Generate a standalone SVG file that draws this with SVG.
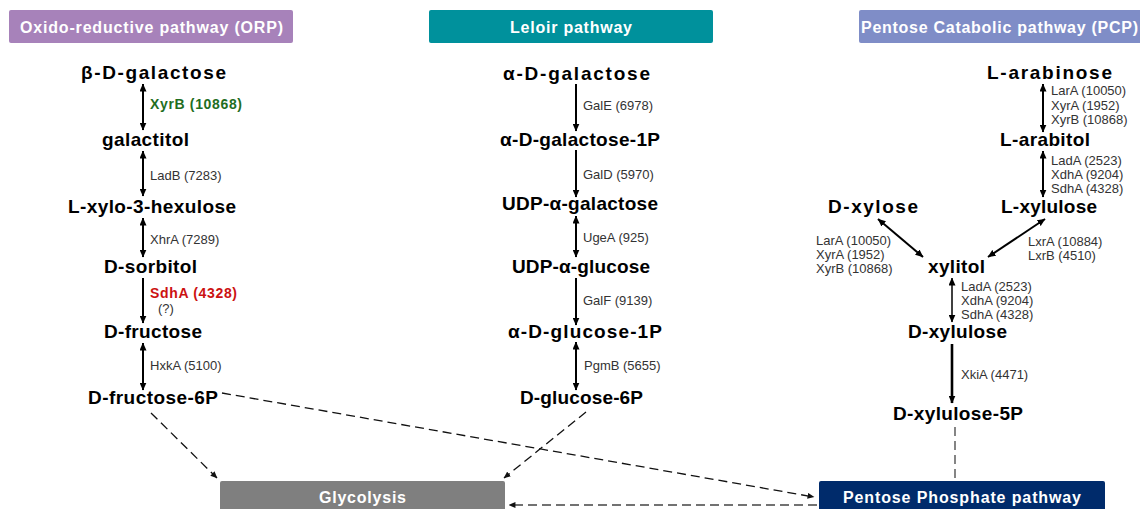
<svg xmlns="http://www.w3.org/2000/svg" width="1140" height="509" viewBox="0 0 1140 509">
<defs>
<style>
.hdr{fill:#fff;font-family:"Liberation Sans",Arial,sans-serif;font-weight:bold;font-size:16px;}
.node{fill:#000;font-family:"Liberation Sans",Arial,sans-serif;font-weight:bold;font-size:19px;text-anchor:middle;}
.lbl{fill:#333;font-family:"Liberation Sans",Arial,sans-serif;font-size:13px;}
.grn{fill:#1f6e1f;font-weight:bold;font-size:14px;}
.red{fill:#cc1111;font-weight:bold;font-size:14px;}
.ar{stroke:#000;stroke-width:2;fill:none;}
.dash{stroke:#111;stroke-width:1.3;stroke-dasharray:9 5;fill:none;}
</style>
<marker id="ah" viewBox="0 0 8 7" refX="7.5" refY="3.5" markerWidth="8" markerHeight="7" markerUnits="userSpaceOnUse" orient="auto-start-reverse">
<path d="M0,0 L8,3.5 L0,7 z" fill="#000"/>
</marker>
<marker id="dh" viewBox="0 0 8 7" refX="7.5" refY="3.5" markerWidth="7" markerHeight="6" markerUnits="userSpaceOnUse" orient="auto">
<path d="M0,0 L8,3.5 L0,7 z" fill="#111"/>
</marker>
</defs>
<rect width="1140" height="509" fill="#fff"/>

<g id="hdr-orp">
<rect x="9" y="10" width="284" height="33" rx="2" fill="#a782ba"/>
<text class="hdr" x="151.5" y="32.5" text-anchor="middle" textLength="263" lengthAdjust="spacing">Oxido-reductive pathway (ORP)</text>
</g>
<g id="hdr-leloir">
<rect x="429" y="10" width="284" height="33" rx="2" fill="#00919c"/>
<text class="hdr" x="571" y="32.5" text-anchor="middle" textLength="122" lengthAdjust="spacing">Leloir pathway</text>
</g>
<g id="hdr-pcp">
<rect x="859" y="10" width="290" height="33" rx="2" fill="#7f8dc7"/>
<text class="hdr" x="861" y="32.5" textLength="277" lengthAdjust="spacing">Pentose Catabolic pathway (PCP)</text>
</g>

<g id="connectors">
<!-- ORP -->
<line class="ar" x1="143" y1="84" x2="143" y2="130" marker-start="url(#ah)" marker-end="url(#ah)"/>
<line class="ar" x1="143" y1="151" x2="143" y2="196" marker-start="url(#ah)" marker-end="url(#ah)"/>
<line class="ar" x1="143" y1="218" x2="143" y2="257" marker-start="url(#ah)" marker-end="url(#ah)"/>
<line class="ar" x1="143" y1="278" x2="143" y2="323" marker-end="url(#ah)"/>
<line class="ar" x1="143" y1="343" x2="143" y2="390" marker-start="url(#ah)" marker-end="url(#ah)"/>
<!-- Leloir -->
<line class="ar" x1="576" y1="84" x2="576" y2="131" marker-end="url(#ah)"/>
<line class="ar" x1="576" y1="150" x2="576" y2="197" marker-end="url(#ah)"/>
<line class="ar" x1="576" y1="216" x2="576" y2="257" marker-start="url(#ah)" marker-end="url(#ah)"/>
<line class="ar" x1="576" y1="278" x2="576" y2="325" marker-end="url(#ah)"/>
<line class="ar" x1="576" y1="342" x2="576" y2="390" marker-start="url(#ah)" marker-end="url(#ah)"/>
<!-- PCP -->
<line class="ar" x1="1043" y1="84" x2="1043" y2="132" marker-start="url(#ah)" marker-end="url(#ah)"/>
<line class="ar" x1="1043" y1="151" x2="1043" y2="197" marker-start="url(#ah)" marker-end="url(#ah)"/>
<line class="ar" x1="878" y1="219" x2="923" y2="257" marker-start="url(#ah)" marker-end="url(#ah)"/>
<line class="ar" x1="1045" y1="219" x2="988" y2="257" marker-start="url(#ah)" marker-end="url(#ah)"/>
<line class="ar" style="stroke-width:1.5" x1="952" y1="278" x2="952" y2="322" marker-start="url(#ah)" marker-end="url(#ah)"/>
<line class="ar" style="stroke-width:2.6" x1="952" y1="344" x2="952" y2="403" marker-end="url(#ah)"/>
<!-- dashed -->
<line class="dash" x1="151" y1="413" x2="217" y2="478" marker-end="url(#dh)"/>
<line class="dash" x1="586" y1="412" x2="504" y2="478" marker-end="url(#dh)"/>
<line class="dash" x1="222" y1="393" x2="814" y2="497" marker-end="url(#dh)"/>
<line class="dash" style="stroke:#444" x1="817" y1="505" x2="509" y2="505" marker-end="url(#dh)"/>
<line class="dash" style="stroke:#444" x1="955" y1="427" x2="955" y2="480"/>
</g>

<g id="orp-nodes">
<text class="node" x="153.5" y="79" textLength="145" lengthAdjust="spacing">β-D-galactose</text>
<text class="node" x="145.5" y="146" textLength="87" lengthAdjust="spacing">galactitol</text>
<text class="node" x="152" y="213" textLength="168" lengthAdjust="spacing">L-xylo-3-hexulose</text>
<text class="node" x="150.5" y="273" textLength="93" lengthAdjust="spacing">D-sorbitol</text>
<text class="node" x="153" y="338" textLength="98" lengthAdjust="spacing">D-fructose</text>
<text class="node" x="153" y="404" textLength="130" lengthAdjust="spacing">D-fructose-6P</text>
</g>
<g id="orp-labels">
<text class="lbl grn" x="150" y="109" textLength="92" lengthAdjust="spacing">XyrB (10868)</text>
<text class="lbl" x="150" y="180">LadB (7283)</text>
<text class="lbl" x="150" y="244">XhrA (7289)</text>
<text class="lbl red" x="150" y="298" textLength="87" lengthAdjust="spacing">SdhA (4328)</text>
<text class="lbl" x="158" y="313">(?)</text>
<text class="lbl" x="150" y="370">HxkA (5100)</text>
</g>

<g id="leloir-nodes">
<text class="node" x="576.5" y="80" textLength="147" lengthAdjust="spacing">α-D-galactose</text>
<text class="node" x="580" y="146" textLength="160" lengthAdjust="spacing">α-D-galactose-1P</text>
<text class="node" x="580" y="210" textLength="156" lengthAdjust="spacing">UDP-α-galactose</text>
<text class="node" x="581" y="273" textLength="138" lengthAdjust="spacing">UDP-α-glucose</text>
<text class="node" x="585" y="338" textLength="154" lengthAdjust="spacing">α-D-glucose-1P</text>
<text class="node" x="581.5" y="404" textLength="123" lengthAdjust="spacing">D-glucose-6P</text>
</g>
<g id="leloir-labels">
<text class="lbl" x="583" y="110">GalE (6978)</text>
<text class="lbl" x="583" y="179">GalD (5970)</text>
<text class="lbl" x="583" y="242">UgeA (925)</text>
<text class="lbl" x="583" y="305">GalF (9139)</text>
<text class="lbl" x="584" y="370">PgmB (5655)</text>
</g>

<g id="pcp-nodes">
<text class="node" x="1049.5" y="79" textLength="125" lengthAdjust="spacing">L-arabinose</text>
<text class="node" x="1045" y="146" textLength="90" lengthAdjust="spacing">L-arabitol</text>
<text class="node" x="1049" y="213" textLength="96" lengthAdjust="spacing">L-xylulose</text>
<text class="node" x="873" y="213" textLength="90" lengthAdjust="spacing">D-xylose</text>
<text class="node" x="956.5" y="273" textLength="57" lengthAdjust="spacing">xylitol</text>
<text class="node" x="957.5" y="338" textLength="99" lengthAdjust="spacing">D-xylulose</text>
<text class="node" x="958" y="420" textLength="130" lengthAdjust="spacing">D-xylulose-5P</text>
</g>
<g id="pcp-labels">
<text class="lbl" x="1051" y="95">LarA (10050)</text>
<text class="lbl" x="1051" y="109.5">XyrA (1952)</text>
<text class="lbl" x="1051" y="124">XyrB (10868)</text>
<text class="lbl" x="1051" y="165">LadA (2523)</text>
<text class="lbl" x="1051" y="179">XdhA (9204)</text>
<text class="lbl" x="1051" y="193">SdhA (4328)</text>
<text class="lbl" x="816" y="245">LarA (10050)</text>
<text class="lbl" x="816" y="259">XyrA (1952)</text>
<text class="lbl" x="816" y="273">XyrB (10868)</text>
<text class="lbl" x="1028" y="246">LxrA (10884)</text>
<text class="lbl" x="1028" y="260">LxrB (4510)</text>
<text class="lbl" x="961" y="291">LadA (2523)</text>
<text class="lbl" x="961" y="305">XdhA (9204)</text>
<text class="lbl" x="961" y="319">SdhA (4328)</text>
<text class="lbl" x="961" y="379">XkiA (4471)</text>
</g>

<g id="glycolysis">
<rect x="220" y="481" width="285" height="34" rx="2" fill="#7f7f7f"/>
<text class="hdr" x="362.5" y="502.5" text-anchor="middle" textLength="87" lengthAdjust="spacing">Glycolysis</text>
</g>
<g id="ppp">
<rect x="819" y="481" width="286" height="34" rx="2" fill="#002b6b"/>
<text class="hdr" x="962" y="502.5" text-anchor="middle" textLength="238" lengthAdjust="spacing">Pentose Phosphate pathway</text>
</g>
</svg>
